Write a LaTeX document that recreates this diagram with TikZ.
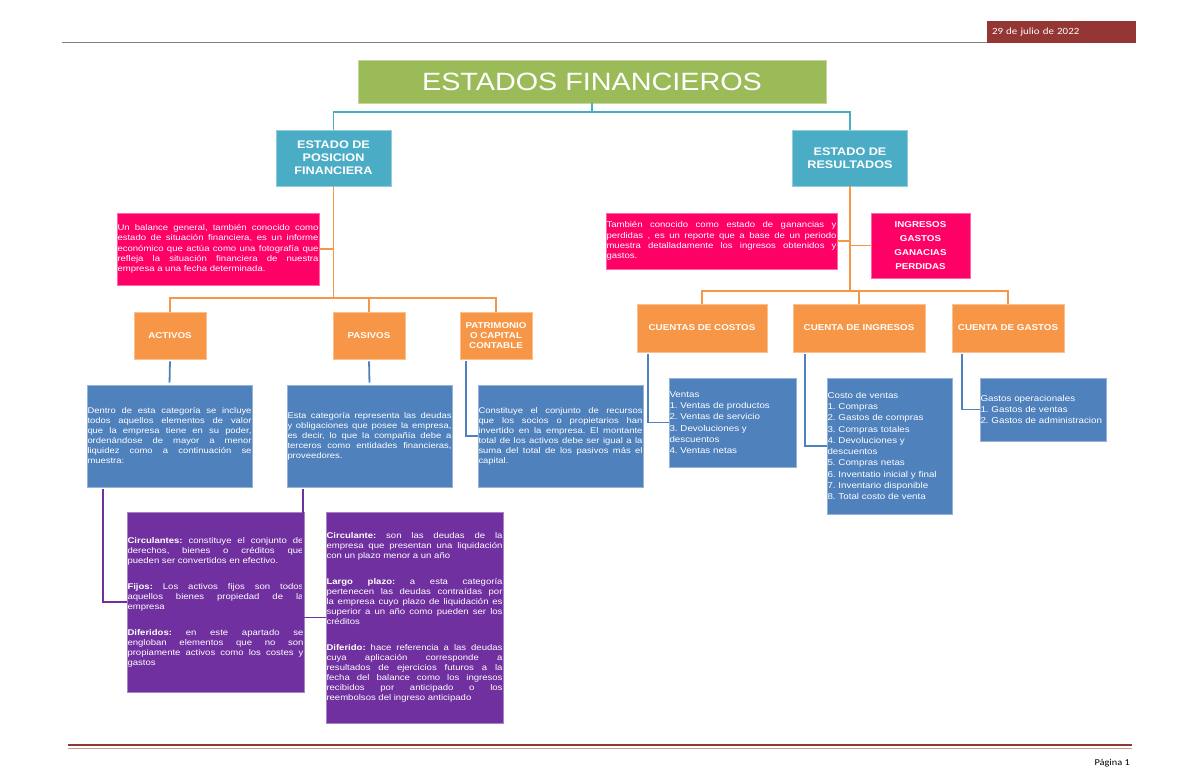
\documentclass[tikz,border=0pt]{standalone}
\usepackage{fontspec}
\setmainfont{Liberation Sans}[FakeStretch=1.15]
\newfontfamily\calibrifont{Carlito}[FakeStretch=1.15]
\usepackage{tikz}
\usetikzlibrary{arrows.meta}
\definecolor{fgreen}{HTML}{9BBB59}
\definecolor{fteal}{HTML}{4BACC6}
\definecolor{fpink}{HTML}{FF0066}
\definecolor{forange}{HTML}{F79646}
\definecolor{fblue}{HTML}{4F81BD}
\definecolor{fpurple}{HTML}{7030A0}
\definecolor{fred}{HTML}{943634}
\definecolor{fgray}{HTML}{7F7F7F}

\begin{document}
\frenchspacing
\begin{tikzpicture}[x=1pt, y=-1pt,
    box/.style={rectangle, draw=#1!60!white, fill=#1, line width=0.6pt, text=white, inner sep=0.5pt},
    head/.style={box=fteal, font=\bfseries\fontsize{11}{13}\selectfont, align=center, minimum width=115pt, minimum height=56pt},
    tag/.style={box=forange, font=\bfseries\fontsize{8.5}{9.7}\selectfont, align=center},
    memo/.style={box=fpink, align=justify, font=\fontsize{8.3}{10.3}\selectfont},
    note/.style={box=#1, align=justify, font=\fontsize{8.2}{10}\selectfont},
    list/.style={box=fblue, align=left, font=\fontsize{8.5}{11.3}\selectfont},
    link/.style={draw=#1, line width=1.8pt}
]
\useasboundingbox (0,0) rectangle (1200,776);

% Header and footer
\node[fill=fred, text=white, minimum width=149pt, minimum height=22pt, text width=139pt, align=left, inner xsep=5pt, font=\calibrifont\fontsize{9.5}{11}\selectfont] (fecha) at (1061.5,32) {29 de julio de 2022};
\draw[fgray, line width=0.8pt] (62,42.5) -- (987,42.5);
\draw[fred, line width=2.6pt] (68,745) -- (1132,745);
\draw[fred!50, line width=0.7pt] (68,748.8) -- (1132,748.8);
\node[anchor=base east, inner sep=0pt, font=\calibrifont\fontsize{9}{11}\selectfont] (pagina) at (1130,765) {Página 1};

% Title and the two statements
\node[box=fgreen, minimum width=468pt, minimum height=43pt, font=\fontsize{25}{28}\selectfont] (titulo) at (592,81.5) {ESTADOS FINANCIEROS};
\node[head] (posicion) at (333.5,158) {ESTADO DE\\POSICION\\FINANCIERA};
\node[head] (resultados) at (850,158) {ESTADO DE\\RESULTADOS};

% Descriptions
\node[memo, minimum width=202pt, minimum height=72pt, text width=201pt] (balance) at (218,249) {Un balance general, también conocido como\linebreak estado de situación financiera, es un informe\linebreak económico que actúa como una fotografía que\linebreak refleja la situación financiera de nuestra\linebreak empresa a una fecha determinada.};
\node[memo, minimum width=231pt, minimum height=56pt, text width=230pt] (ganancias) at (721.5,241) {También conocido como estado de ganancias y\linebreak perdidas , es un reporte que a base de un periodo\linebreak muestra detalladamente los ingresos obtenidos y\linebreak gastos.};
\node[box=fpink, font=\bfseries\fontsize{8.5}{14}\selectfont, align=center, minimum width=99pt, minimum height=65pt] (rubros) at (920.5,245.5) {INGRESOS\\GASTOS\\GANACIAS\\PERDIDAS};

% Balance items
\node[tag, minimum width=72pt, minimum height=47pt] (activos) at (170,335.5) {ACTIVOS};
\node[tag, minimum width=72pt, minimum height=47pt] (pasivos) at (369,335.5) {PASIVOS};
\node[tag, minimum width=72pt, minimum height=47pt] (patrimonio) at (496,335.5) {PATRIMONIO\\O CAPITAL\\CONTABLE};

% Accounts
\node[tag, minimum width=130pt, minimum height=48pt] (costos) at (702,328) {CUENTAS DE COSTOS};
\node[tag, minimum width=132pt, minimum height=48pt] (ingresos) at (859,328) {CUENTA DE INGRESOS};
\node[tag, minimum width=112pt, minimum height=48pt] (gastos) at (1008,328) {CUENTA DE GASTOS};

% Explanations
\node[note=fblue, minimum width=165pt, minimum height=102pt, text width=164pt] (dactivos) at (169.5,436) {Dentro de esta categoría se incluye\linebreak todos aquellos elementos de valor\linebreak que la empresa tiene en su poder,\linebreak ordenándose de mayor a menor\linebreak liquidez como a continuación se\linebreak muestra:};
\node[note=fblue, minimum width=165pt, minimum height=102pt, text width=164pt] (dpasivos) at (369.5,436) {Esta categoría representa las deudas\linebreak y obligaciones que posee la empresa,\linebreak es decir, lo que la compañía debe a\linebreak terceros como entidades financieras,\linebreak proveedores.};
\node[note=fblue, minimum width=165pt, minimum height=102pt, text width=164pt] (dpatrimonio) at (560.5,436) {Constituye el conjunto de recursos\linebreak que los socios o propietarios han\linebreak invertido en la empresa. El montante\linebreak total de los activos debe ser igual a la\linebreak suma del total de los pasivos más el\linebreak capital.};

\node[list, minimum width=127pt, minimum height=89pt, text width=126pt] (ventas) at (732.5,422.5) {Ventas\\1. Ventas de productos\\2. Ventas de servicio\\3. Devoluciones y\\descuentos\\4. Ventas netas};
\node[list, minimum width=125pt, minimum height=136pt, text width=124pt] (compras) at (889.5,446) {Costo de ventas\\1. Compras\\2. Gastos de compras\\3. Compras totales\\4. Devoluciones y\\descuentos\\5. Compras netas\\6. Inventatio inicial y final\\7. Inventario disponible\\8. Total costo de venta};
\node[list, minimum width=126pt, minimum height=63pt, text width=125pt] (operacion) at (1043,409.5) {Gastos operacionales\\1. Gastos de ventas\\2. Gastos de administracion};

% Classifications
\node[note=fpurple, minimum width=177pt, minimum height=180pt, text width=176pt, font=\fontsize{8.3}{10}\selectfont] (clactivos) at (215.5,602) {\textbf{Circulantes:} constituye el conjunto de\linebreak derechos, bienes o créditos que\linebreak pueden ser convertidos en efectivo.\par\vspace{16pt}
\textbf{Fijos:} Los activos fijos son todos\linebreak aquellos bienes propiedad de la\linebreak empresa\par\vspace{16pt}
\textbf{Diferidos:} en este apartado se\linebreak engloban elementos que no son\linebreak propiamente activos como los costes y\linebreak gastos};
\node[note=fpurple, minimum width=177pt, minimum height=211pt, text width=176pt, font=\fontsize{8.3}{10}\selectfont] (clpasivos) at (414.5,617.5) {\textbf{Circulante:} son las deudas de la\linebreak empresa que presentan una liquidación\linebreak con un plazo menor a un año\par\vspace{16pt}
\textbf{Largo plazo:} a esta categoría\linebreak pertenecen las deudas contraídas por\linebreak la empresa cuyo plazo de liquidación es\linebreak superior a un año como pueden ser los\linebreak créditos\par\vspace{16pt}
\textbf{Diferido:} hace referencia a las deudas\linebreak cuya aplicación corresponde a\linebreak resultados de ejercicios futuros a la\linebreak fecha del balance como los ingresos\linebreak recibidos por anticipado o los\linebreak reembolsos del ingreso anticipado};

% Connectors
\draw[link=fteal] (titulo.south) -- ++(0,9) -| (posicion.north);
\draw[link=fteal] (titulo.south) ++(0,9) -| (resultados.north);

\coordinate (lhub) at (333.5,298);
\draw[link=forange] (posicion.south) -- (lhub);
\draw[link=forange] (balance.east) -- (balance.east -| lhub);
\draw[link=forange] (lhub) -| (activos.north);
\draw[link=forange] (lhub) -| (pasivos.north);
\draw[link=forange] (lhub) -| (patrimonio.north);

\coordinate (rhub) at (850,291);
\draw[link=forange] (resultados.south) -- (rhub);
\draw[link=forange] (ganancias.east) -- (ganancias.east -| rhub);
\draw[link=forange] (rubros.west) -- (rubros.west -| rhub);
\draw[link=forange] (rhub) -| (costos.north);
\draw[link=forange] (rhub) -| (ingresos.north);
\draw[link=forange] (rhub) -| (gastos.north);

\draw[link=fblue, shorten <=2pt, shorten >=2pt] (activos.south) -- (dactivos.north);
\draw[link=fblue, shorten <=2pt, shorten >=2pt] (pasivos.south) -- (dpasivos.north);
\draw[link=fblue, shorten <=2pt] ([xshift=6pt]patrimonio.south west) |- (dpatrimonio.west);
\draw[link=fblue, shorten <=2pt] ([xshift=11pt]costos.south west) |- (ventas.west);
\draw[link=fblue, shorten <=2pt] ([xshift=12pt]ingresos.south west) |- (compras.west);
\draw[link=fblue, shorten <=2pt] ([xshift=10pt]gastos.south west) |- (operacion.west);

\draw[link=fpurple, shorten <=2pt] ([xshift=16pt]dactivos.south west) |- (clactivos.west);
\draw[link=fpurple, shorten <=2pt] ([xshift=16pt]dpasivos.south west) |- (clpasivos.west);

\end{tikzpicture}
\end{document}
